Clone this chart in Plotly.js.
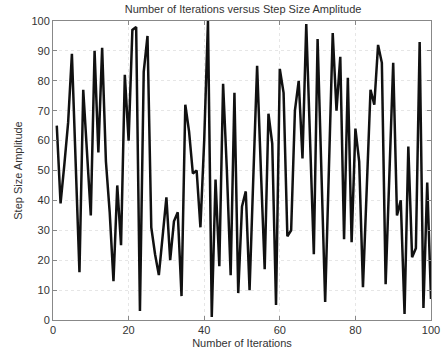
<!DOCTYPE html>
<html>
<head>
<meta charset="utf-8">
<script src="https://cdn.plot.ly/plotly-3.0.1.min.js"></script>
<style>html,body{margin:0;padding:0;background:#fff;}#chart{width:446px;height:357px;}</style>
</head>
<body>
<div id="chart"></div>
<script>
var iterations = [];
for (var k = 1; k <= 100; k++) iterations.push(k);
var amplitude = [
  65, 39, 52, 66, 89, 52, 16, 77, 56, 35,
  90, 56, 91, 53, 36, 13, 45, 25, 82, 60,
  97, 98, 3, 83, 95, 31, 22, 15, 28, 41,
  20, 33, 36, 8, 72, 63, 49, 50, 31, 60,
  100, 1, 47, 18, 79, 50, 15, 76, 9, 38,
  43, 10, 48, 85, 50, 17, 69, 59, 5, 84,
  76, 28, 30, 70, 80, 54, 99, 60, 22, 94,
  50, 6, 51, 96, 70, 88, 27, 81, 26, 64,
  53, 11, 44, 77, 72, 92, 86, 12, 49, 86,
  35, 40, 2, 58, 21, 24, 93, 4, 46, 7
];
var xTicks = [0, 20, 40, 60, 80, 100];
var yTicks = [0, 10, 20, 30, 40, 50, 60, 70, 80, 90, 100];

var font = {family: 'Liberation Sans, Arial, sans-serif', size: 11, color: '#333'};
var axisCommon = {
  showline: true, linecolor: '#888', linewidth: 1, mirror: 'ticks',
  ticks: 'inside', ticklen: 4, tickcolor: '#888',
  showgrid: true, gridcolor: '#e6e6e6', griddash: 'dot', gridwidth: 1,
  zeroline: false, tickfont: font
};
Plotly.newPlot('chart', [{
  x: iterations, y: amplitude, type: 'scatter', mode: 'lines',
  line: {color: '#111', width: 2.5}
}], {
  width: 446, height: 357,
  margin: {l: 53, r: 15, t: 21, b: 37},
  paper_bgcolor: '#fff', plot_bgcolor: '#fff',
  showlegend: false,
  title: {text: 'Number of Iterations versus Step Size Amplitude', font: font, x: 0.545, xanchor: 'center', y: 0.985, yanchor: 'top'},
  xaxis: Object.assign({}, axisCommon, {range: [0, 100], tickvals: xTicks,
    title: {text: 'Number of Iterations', font: font, standoff: 4}}),
  yaxis: Object.assign({}, axisCommon, {range: [0, 100], tickvals: yTicks,
    title: {text: 'Step Size Amplitude', font: font, standoff: 6}})
}, {displayModeBar: false, staticPlot: true});
</script>
</body>
</html>
